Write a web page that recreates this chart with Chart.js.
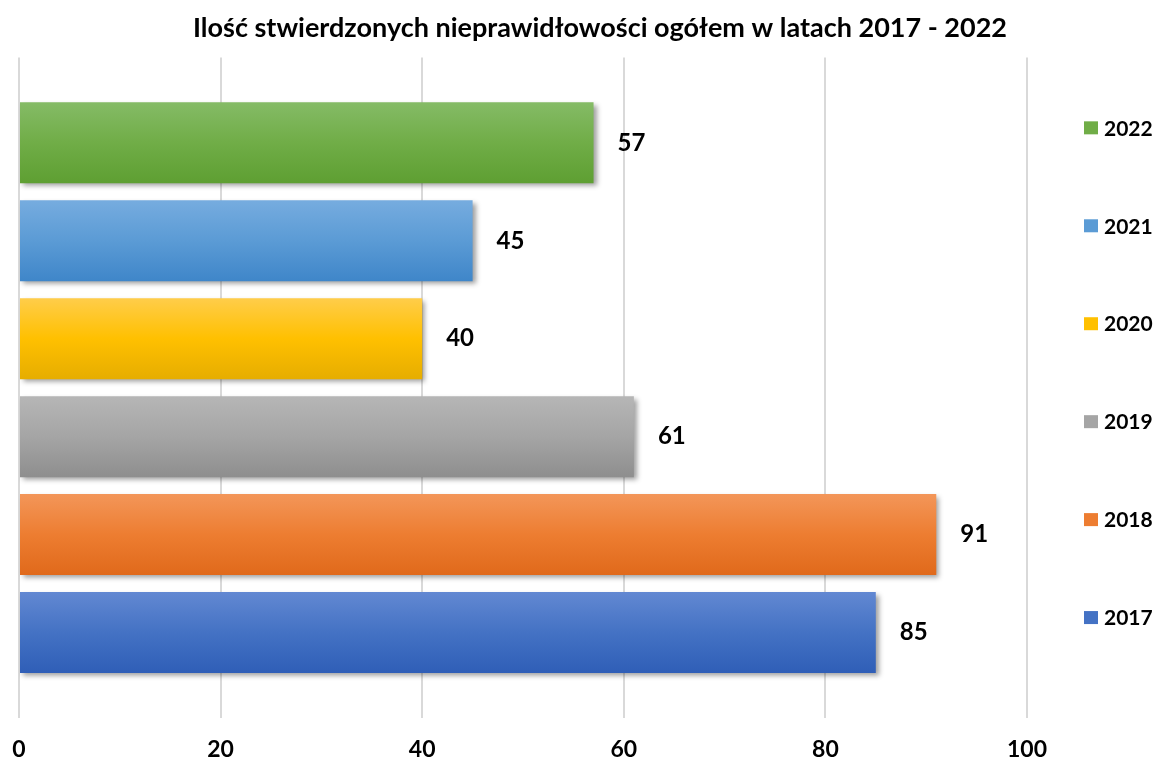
<!DOCTYPE html>
<html>
<head>
<meta charset="utf-8">
<script src="https://cdn.jsdelivr.net/npm/chart.js@4"></script>
<style>
  html, body { margin:0; padding:0; background:#fff; }
  #wrap { width:1160px; height:766px; }
</style>
</head>
<body>
<div id="wrap"><canvas id="chart"></canvas></div>
<script>
// data
const years  = ['2022','2021','2020','2019','2018','2017'];
const counts = [57, 45, 40, 61, 91, 85];
const xTicks = [0, 20, 40, 60, 80, 100];
const chartTitle = 'Ilość stwierdzonych nieprawidłowości ogółem w latach 2017 - 2022';

// gradient colours per year (top, middle, bottom)
const shades = [
  ['#85bb66','#70ad47','#5e9f32'],
  ['#76acdf','#5b9bd5','#3f86c9'],
  ['#ffcd4a','#ffc000','#e6ad00'],
  ['#b6b6b6','#a5a5a5','#8e8e8e'],
  ['#f39659','#ed7d31','#e0691b'],
  ['#6288d2','#4472c4','#2f5eb7']
];

const FONT = 'Lato, "Liberation Sans", sans-serif';

// gradient fill + drop shadow for each bar, value labels, side legend
const barLook = {
  id:'barLook',
  beforeDatasetsDraw(chart){
    const ctx = chart.ctx;
    chart.data.datasets.forEach((ds,i)=>{
      chart.getDatasetMeta(i).data.forEach(el=>{
        const h = el.height / 2;
        const g = ctx.createLinearGradient(0, el.y - h, 0, el.y + h);
        g.addColorStop(0, shades[i][0]);
        g.addColorStop(0.5, shades[i][1]);
        g.addColorStop(1, shades[i][2]);
        el.options = Object.assign({}, el.options, {backgroundColor:g});
      });
    });
    ctx.save();
    ctx.shadowColor = 'rgba(0,0,0,0.38)';
    ctx.shadowBlur = 5;
    ctx.shadowOffsetX = 3;
    ctx.shadowOffsetY = 3;
  },
  afterDatasetsDraw(chart){
    chart.ctx.restore();
    const ctx = chart.ctx;
    ctx.save();
    ctx.font = 'bold 24px ' + FONT;
    ctx.fillStyle = '#000';
    ctx.textBaseline = 'middle';
    ctx.textAlign = 'left';
    chart.data.datasets.forEach((ds,i)=>{
      chart.getDatasetMeta(i).data.forEach((el,j)=>{
        ctx.fillText(String(ds.data[j]), el.x + 24, el.y);
      });
    });
    ctx.restore();
  },
  afterDraw(chart){
    // legend on the right, one entry beside each bar
    const ctx = chart.ctx;
    ctx.save();
    ctx.font = 'bold 21px ' + FONT;
    ctx.textBaseline = 'middle';
    ctx.textAlign = 'left';
    chart.data.datasets.forEach((ds,i)=>{
      const el = chart.getDatasetMeta(i).data[0];
      const y = el.y - 15;
      ctx.fillStyle = shades[i][1];
      ctx.fillRect(1084, y - 6.5, 14, 13);
      ctx.fillStyle = '#000';
      ctx.fillText(ds.label, 1104, y + 1);
    });
    ctx.restore();
  }
};

new Chart(document.getElementById('chart'), {
  type:'bar',
  data:{
    labels:[''],
    datasets: years.map((y,i)=>({
      label:y,
      data:[counts[i]],
      backgroundColor:shades[i][1],
      borderWidth:0,
      categoryPercentage:0.8896,
      barPercentage:0.827
    }))
  },
  options:{
    indexAxis:'y',
    responsive:true,
    maintainAspectRatio:false,
    animation:false,
    layout:{ padding:{ top:10, left:0, right:-40, bottom:0 } },
    plugins:{
      legend:{ display:false },
      tooltip:{ enabled:false },
      title:{
        display:true,
        text:chartTitle,
        color:'#000',
        font:{ family:FONT, size:27, weight:'bold' },
        padding:{ top:2, bottom:13 }
      }
    },
    scales:{
      x:{
        min:0, max:100,
        afterBuildTicks(scale){ scale.ticks = xTicks.map(v=>({value:v})); },
        afterFit(scale){ scale.height = 48; scale.paddingLeft = 19; scale.paddingRight = 133; },
        border:{ display:false },
        grid:{ color:'#d9d9d9', lineWidth:2, drawTicks:false },
        ticks:{ color:'#000', padding:18, font:{ family:FONT, size:23, weight:'bold' } }
      },
      y:{ display:false }
    }
  },
  plugins:[barLook]
});
</script>
</body>
</html>
